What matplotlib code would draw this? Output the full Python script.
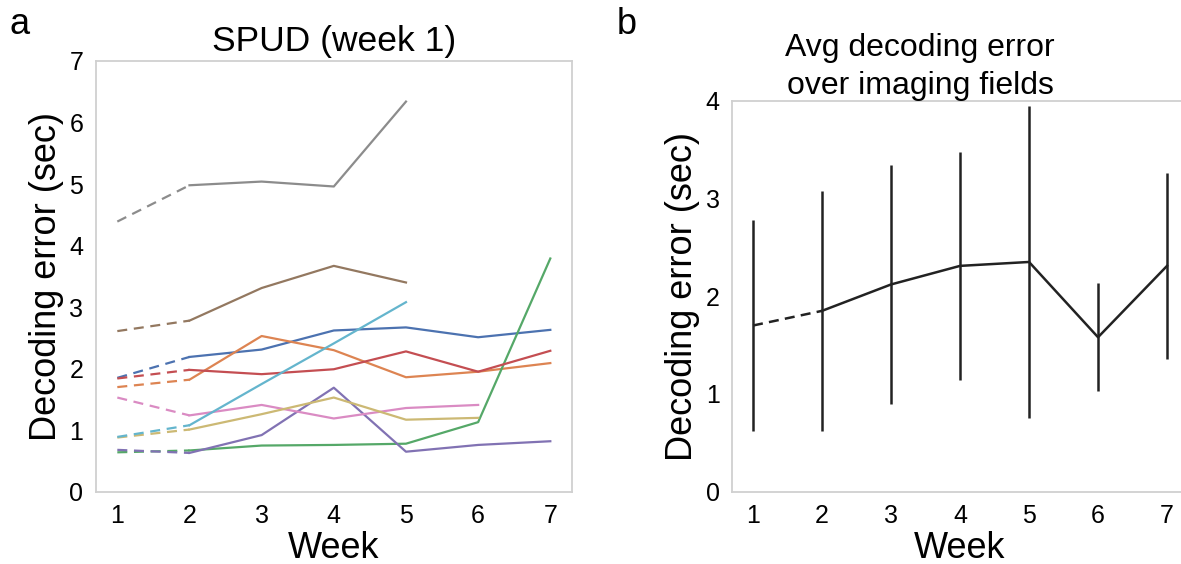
import numpy as np
import matplotlib.pyplot as plt

plt.rcParams['font.family'] = ['Liberation Sans', 'DejaVu Sans']

weeks = [1, 2, 3, 4, 5, 6, 7]

# decoding error per imaging field (sec), None = not imaged that week
fields = {
    'blue':   [1.85, 2.19, 2.31, 2.62, 2.67, 2.51, 2.63],
    'orange': [1.70, 1.82, 2.53, 2.30, 1.86, 1.95, 2.09],
    'green':  [0.64, 0.67, 0.75, 0.76, 0.78, 1.13, 3.79],
    'red':    [1.84, 1.98, 1.91, 1.99, 2.28, 1.95, 2.29],
    'purple': [0.68, 0.63, 0.92, 1.69, 0.65, 0.76, 0.82],
    'brown':  [2.61, 2.78, 3.31, 3.67, 3.40, None, None],
    'pink':   [1.53, 1.24, 1.41, 1.19, 1.36, 1.41, None],
    'gray':   [4.39, 4.98, 5.04, 4.96, 6.34, None, None],
    'olive':  [0.88, 1.01, 1.26, 1.53, 1.17, 1.20, None],
    'cyan':   [0.89, 1.08, 1.75, 2.41, 3.08, None, None],
}
colors = {
    'blue': '#4C72B0', 'orange': '#DD8452', 'green': '#55A868', 'red': '#C44E52',
    'purple': '#8172B3', 'brown': '#937860', 'pink': '#DA8BC3', 'gray': '#8C8C8C',
    'olive': '#CCB974', 'cyan': '#64B5CD',
}

avg_err = [1.70, 1.85, 2.12, 2.31, 2.35, 1.58, 2.31]
avg_sd = [1.08, 1.23, 1.22, 1.17, 1.60, 0.55, 0.95]

fig = plt.figure(figsize=(11.81, 5.64), dpi=100)
ax1 = fig.add_axes([0.0810, 0.1282, 0.4033, 0.7637])
ax2 = fig.add_axes([0.6201, 0.1282, 0.3856, 0.6933])

for name, vals in fields.items():
    x = [w for w, v in zip(weeks, vals) if v is not None]
    y = [v for v in vals if v is not None]
    c = colors[name]
    ax1.plot(x[:2], y[:2], color=c, lw=1.6, ls=(0, (4.5, 3)))
    ax1.plot(x[1:], y[1:], color=c, lw=1.6)

ax2.vlines(weeks, np.array(avg_err) - np.array(avg_sd), np.array(avg_err) + np.array(avg_sd),
           color='#222222', lw=1.8)
ax2.plot(weeks[:2], avg_err[:2], color='#222222', lw=1.8, ls=(0, (4, 2.5)))
ax2.plot(weeks[1:], avg_err[1:], color='#222222', lw=1.8)

for ax, ymax in [(ax1, 7), (ax2, 4)]:
    ax.set_xlim(0.7, 7.3)
    ax.set_ylim(0, ymax)
    ax.set_xticks(weeks)
    ax.set_yticks(range(ymax + 1))
    ax.tick_params(length=0, labelsize=18, pad=9)
    for s in ax.spines.values():
        s.set_color('#d0d0d0')
        s.set_linewidth(1.3)
    ax.set_xlabel('Week', fontsize=26, labelpad=2)
    ax.set_ylabel('Decoding error (sec)', fontsize=26, labelpad=4)

ax1.set_title('SPUD (week 1)', fontsize=25.5, pad=7)
ax2.set_title('Avg decoding error\nover imaging fields', fontsize=23, pad=2, x=0.412,
              linespacing=1.35)

fig.text(0.008, 0.94, 'a', fontsize=26, va='baseline')
fig.text(0.522, 0.94, 'b', fontsize=26, va='baseline')

fig.savefig('out.png', dpi=100)
